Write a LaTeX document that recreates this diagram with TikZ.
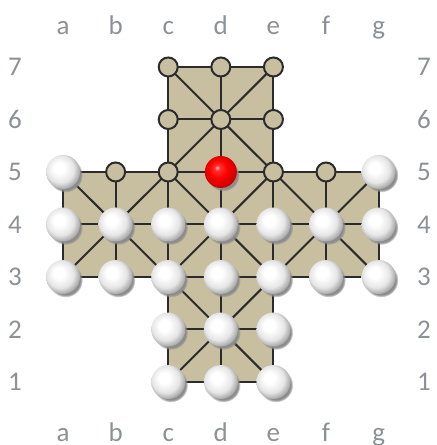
\documentclass[tikz,border=0pt]{standalone}
\usepackage{fontspec}
\setmainfont{Carlito}
\usepackage{tikz}
\usetikzlibrary{shadows}
\definecolor{boardtan}{HTML}{C8BEA0}
\definecolor{boardline}{HTML}{2B2B2B}
\definecolor{labelgray}{HTML}{8C9196}
\pgfdeclareradialshading{pearl}{\pgfpoint{-7bp}{7bp}}{color(0bp)=(white); color(8bp)=(white); color(20bp)=(black!10); color(30bp)=(black!40); color(50bp)=(black!50)}
\pgfdeclareradialshading{redpearl}{\pgfpoint{-6bp}{7bp}}{color(0bp)=(red!25!white); color(4bp)=(red!80!white); color(14bp)=(red); color(30bp)=(red!75!black); color(50bp)=(red!50!black)}

\begin{document}
\begin{tikzpicture}[
  x=26.3pt, y=26.25pt,
  line/.style={draw=boardline,line width=1pt},
  hole/.style={circle,draw=boardline,line width=1pt,fill=boardtan,inner sep=0pt,minimum size=9.5pt},
  goose/.style={circle,inner sep=0pt,minimum size=17pt,shading=pearl,
    circular drop shadow={shadow xshift=1.2pt,shadow yshift=-1.5pt,shadow scale=1.02,fill=black!45}},
  fox/.style={goose,minimum size=16pt,shading=redpearl},
  lbl/.style={text=labelgray,font=\fontsize{13.5}{13.5}\selectfont,inner sep=0pt}
]
\useasboundingbox (-0.198,-0.2) rectangle (8.091,8.276);
% board points
\foreach \col [count=\i] in {a,...,g}
  \foreach \row in {1,...,7}
    \coordinate (\col\row) at (\i,\row);
\fill[boardtan] (c7) -- (e7) -- (e5) -- (g5) -- (g3) -- (e3) -- (e1) -- (c1) -- (c3) -- (a3) -- (a5) -- (c5) -- cycle;
% lines
\draw[line] (c7) -- (e7) (c6) -- (e6) (a5) -- (g5) (a4) -- (g4) (a3) -- (g3) (c2) -- (e2) (c1) -- (e1);
\draw[line] (a5) -- (a3) (b5) -- (b3) (c7) -- (c1) (d7) -- (d1) (e7) -- (e1) (f5) -- (f3) (g5) -- (g3);
\draw[line] (a3) -- (e7) (c7) -- (g3) (a5) -- (e1) (g5) -- (c1) (c5) -- (e3) (c3) -- (e5);
% empty points
\foreach \p in {c7,d7,e7,c6,d6,e6,b5,c5,e5,f5}
  \node[hole] (h\p) at (\p) {};
% pieces
\foreach \p in {a5,g5,a4,b4,c4,d4,e4,f4,g4,a3,b3,c3,d3,e3,f3,g3,c2,d2,e2,c1,d1,e1}
  \node[goose] (g\p) at (\p) {};
\node[fox] (fox) at (d5) {};
% labels
\foreach \col [count=\i] in {a,...,g} {
  \node[lbl,anchor=base] (top\col) at (\i,7.61) {\col};
  \node[lbl,anchor=base] (bot\col) at (\i,-0.124) {\col};
}
\foreach \row in {1,...,7} {
  \node[lbl] (left\row) at (0.087,\row) {\row};
  \node[lbl] (right\row) at (7.86,\row) {\row};
}
\end{tikzpicture}
\end{document}
